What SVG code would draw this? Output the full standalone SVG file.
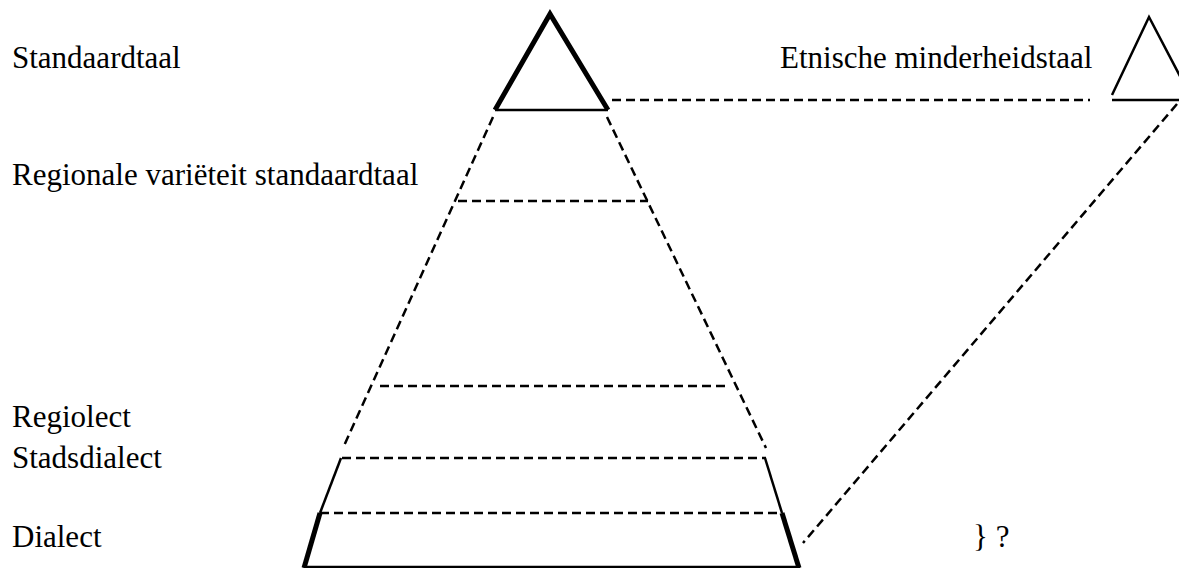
<svg xmlns="http://www.w3.org/2000/svg" width="1179" height="568" viewBox="0 0 1179 568">
<style>
text{font-family:"Liberation Serif","Times New Roman",serif;font-size:31px;fill:#000}
.d{stroke:#000;stroke-width:2.5;stroke-dasharray:9,5;fill:none}
.s{stroke:#000;stroke-width:2.5;fill:none}
.t{stroke:#000;stroke-width:5;fill:none}
</style>
<rect width="1179" height="568" fill="#fff"/>
<g id="labels">
<text x="12" y="68">Standaardtaal</text>
<text x="12" y="185">Regionale variëteit standaardtaal</text>
<text x="12" y="427">Regiolect</text>
<text x="12" y="468">Stadsdialect</text>
<text x="12" y="547">Dialect</text>
<text x="780" y="68">Etnische minderheidstaal</text>
<text x="973" y="547">} ?</text>
</g>
<g id="standaardtaal-triangle">
<path class="t" d="M495,110 L550,14 L608,110" stroke-linejoin="miter"/>
<line class="s" x1="495" y1="110" x2="608" y2="110"/>
</g>
<g id="minderheid-triangle">
<path class="s" d="M1112,95 L1149,17 L1182,80"/>
<line class="s" x1="1112" y1="100" x2="1179" y2="100"/>
</g>
<g id="pyramid">
<line class="d" x1="493" y1="117" x2="343" y2="448"/>
<line class="d" x1="607" y1="117" x2="766" y2="448"/>
<line class="d" x1="458" y1="201" x2="648" y2="201"/>
<line class="d" x1="380" y1="386" x2="730" y2="386"/>
<line class="d" x1="342" y1="458" x2="766" y2="458"/>
<line class="d" x1="320" y1="513" x2="782" y2="513"/>
<line class="s" x1="341" y1="458" x2="320" y2="513"/>
<line class="t" x1="320" y1="513" x2="304" y2="568"/>
<line class="s" x1="765" y1="458" x2="782" y2="513"/>
<line class="t" x1="782" y1="513" x2="799" y2="568"/>
<line class="s" x1="304" y1="567" x2="800" y2="567"/>
</g>
<g id="connectors">
<line class="d" x1="612" y1="100" x2="1090" y2="100"/>
<line class="d" x1="1177" y1="104" x2="803" y2="543"/>
</g>
</svg>
